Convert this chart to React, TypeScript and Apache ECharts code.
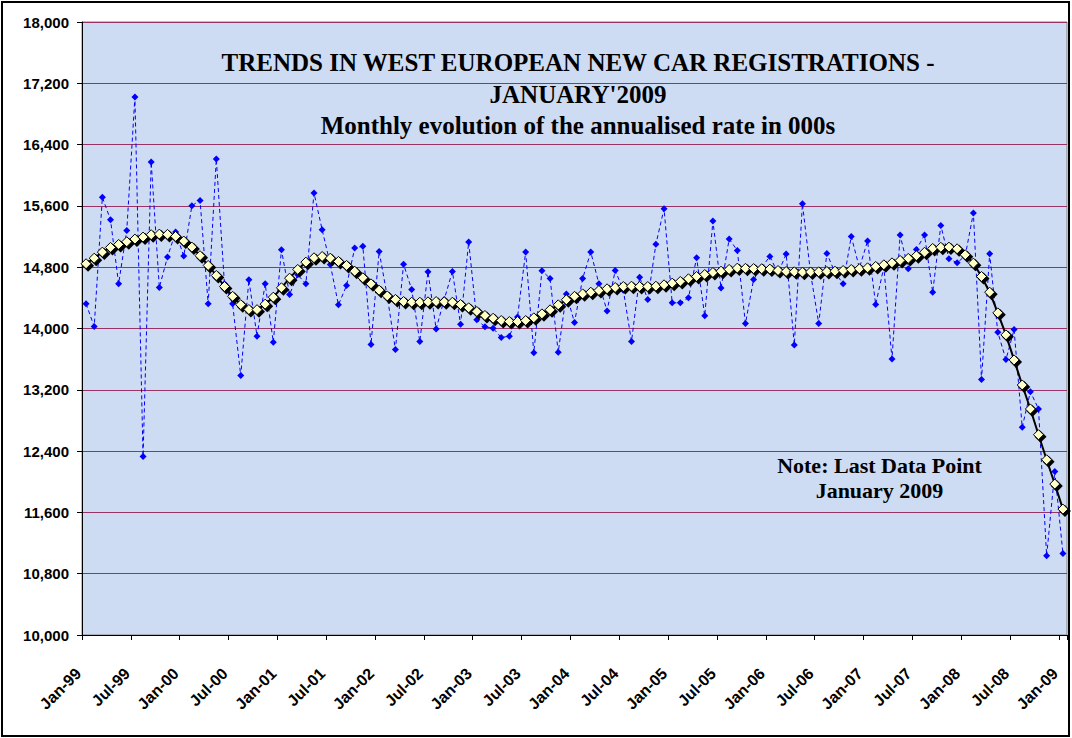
import React, { useEffect, useRef } from 'react';
import * as echarts from 'echarts';

const MONTHS = ['Jan', 'Feb', 'Mar', 'Apr', 'May', 'Jun', 'Jul', 'Aug', 'Sep', 'Oct', 'Nov', 'Dec'];
const YEARS = ['99', '00', '01', '02', '03', '04', '05', '06', '07', '08', '09'];
const categories: string[] = [];
YEARS.forEach((y, yi) => {
  MONTHS.forEach((m, mi) => {
    if (yi < YEARS.length - 1 || mi === 0) categories.push(`${m}-${y}`);
  });
});

const Y_MIN = 10000;
const Y_MAX = 18000;
const Y_STEP = 800;

const TITLE_LINES = [
  'TRENDS IN WEST EUROPEAN NEW CAR REGISTRATIONS -',
  "JANUARY'2009",
  'Monthly evolution of the annualised rate in 000s',
];
const NOTE_LINES = ['Note: Last Data Point', 'January 2009'];

// Monthly annualised rate (blue dashed)
const monthly = [
  14322, 14026, 15712, 15420, 14583, 15280, 17020, 12331, 16173, 14535, 14932, 15258,
  14945, 15603, 15672, 14322, 16212, 14583, 14322, 13385, 14636, 13900, 14583, 13822,
  15027, 14444, 14700, 14583, 15768, 15289, 14836, 14309, 14561, 15049, 15075, 13790,
  15005, 14420, 13725, 14840, 14509, 13830, 14740, 13995, 14380, 14744, 14056, 15128,
  14113, 14022, 14004, 13882, 13900, 14150, 14997, 13682, 14753, 14653, 13690, 14450,
  14078, 14653, 14997, 14583, 14230, 14757, 14500, 13830, 14670, 14378, 15101, 15564,
  14335, 14335, 14400, 14923, 14165, 15402, 14527, 15167, 15019, 14065, 14640, 14800,
  14940, 14720, 14971, 13786, 15629, 14720, 14065, 14980, 14730, 14583, 15202, 14790,
  15141, 14313, 14800, 13603, 15219, 14779, 15032, 15219, 14474, 15345, 14910, 14857,
  14950, 15507, 13333, 14976, 13951, 13594, 13986, 12710, 13176, 12950, 11033, 12134,
  11063,
];

// Smoothed trend (black / yellow diamonds)
const trend = [
  14845, 14918, 14997, 15058, 15097, 15132, 15167, 15193, 15224, 15232, 15228, 15202,
  15141, 15062, 14950, 14823, 14692, 14548, 14420, 14311, 14248, 14246, 14318, 14409,
  14531, 14657, 14771, 14866, 14923, 14940, 14918, 14875, 14823, 14748, 14662, 14583,
  14500, 14425, 14380, 14352, 14343, 14343, 14348, 14352, 14348, 14343, 14313, 14270,
  14222, 14170, 14134, 14104, 14091, 14091, 14104, 14139, 14191, 14244, 14309, 14375,
  14420, 14452, 14474, 14496, 14518, 14535, 14548, 14552, 14548, 14548, 14552, 14570,
  14592, 14614, 14649, 14679, 14705, 14731, 14748, 14771, 14788, 14785, 14782, 14780,
  14775, 14757, 14744, 14740, 14735, 14738, 14740, 14744, 14748, 14757, 14770, 14780,
  14792, 14810, 14831, 14857, 14888, 14915, 14950, 14995, 15045, 15060, 15062, 15040,
  14962, 14853, 14679, 14474, 14204, 13917, 13590, 13263, 12950, 12614, 12287, 11970,
  11643,
];

export default function App() {
  const ref = useRef<HTMLDivElement>(null);
  useEffect(() => {
    if (!ref.current) return;
    const chart = echarts.init(ref.current, null, { renderer: 'svg' });
    const serif = "'Liberation Serif', 'Times New Roman', serif";
    const sans = "'Liberation Sans', Arial, sans-serif";
    chart.setOption({
      animation: false,
      backgroundColor: '#ffffff',
      grid: {
        left: 82,
        top: 22,
        right: 5,
        bottom: 103,
        show: true,
        backgroundColor: '#cddbf3',
        borderColor: '#808080',
        borderWidth: 1,
      },
      xAxis: {
        type: 'category',
        data: categories,
        boundaryGap: true,
        axisLine: { lineStyle: { color: '#000', width: 1 } },
        axisTick: { show: true, interval: 5, length: 5, lineStyle: { color: '#000' } },
        axisLabel: {
          interval: 5,
          rotate: 45,
          margin: 28,
          padding: [0, 11, 0, 0],
          fontFamily: sans,
          fontWeight: 'bold',
          fontSize: 16,
          color: '#000',
        },
        splitLine: { show: false },
      },
      yAxis: {
        type: 'value',
        min: Y_MIN,
        max: Y_MAX,
        interval: Y_STEP,
        axisLine: { show: true, lineStyle: { color: '#000', width: 1 } },
        axisTick: { show: true, length: 5, lineStyle: { color: '#000' } },
        axisLabel: {
          margin: 13,
          fontFamily: sans,
          fontWeight: 'bold',
          fontSize: 15,
          color: '#000',
          formatter: (v: number) => v.toLocaleString('en-US'),
        },
        splitLine: { show: true, lineStyle: { color: '#993366', width: 1 } },
      },
      series: [
        {
          type: 'line',
          data: monthly,
          symbol: 'diamond',
          symbolSize: 7,
          showAllSymbol: true,
          itemStyle: { color: '#0000ff' },
          lineStyle: { color: '#0000ff', width: 1, type: [4, 3] },
          emphasis: { disabled: true },
          z: 2,
        },
        {
          type: 'line',
          data: trend,
          symbol: 'diamond',
          symbolSize: 12,
          symbolOffset: [2, 2],
          showAllSymbol: true,
          itemStyle: { color: '#000000' },
          lineStyle: { color: '#000000', width: 2 },
          emphasis: { disabled: true },
          z: 3,
        },
        {
          type: 'line',
          data: trend,
          symbol: 'diamond',
          symbolSize: 10,
          showAllSymbol: true,
          itemStyle: { color: '#ffffc8', borderColor: '#000000', borderWidth: 1 },
          lineStyle: { width: 0, opacity: 0 },
          emphasis: { disabled: true },
          z: 4,
        },
      ],
      graphic: [
        {
          type: 'rect',
          silent: true,
          z: 100,
          shape: { x: 2, y: 2, width: 1067, height: 734 },
          style: { fill: 'none', stroke: '#000', lineWidth: 2 },
        },
        ...TITLE_LINES.map((t, i) => ({
          type: 'text',
          silent: true,
          z: 50,
          x: 578,
          y: [62.5, 94.7, 125.8][i],
          style: {
            text: t,
            fill: '#000',
            font: `bold 25px ${serif}`,
            align: 'center',
            verticalAlign: 'middle',
          },
        })),
        ...NOTE_LINES.map((t, i) => ({
          type: 'text',
          silent: true,
          z: 50,
          x: 879.5,
          y: [465.3, 490.3][i],
          style: {
            text: t,
            fill: '#000',
            font: `bold 22px ${serif}`,
            align: 'center',
            verticalAlign: 'middle',
          },
        })),
      ],
    });
    return () => chart.dispose();
  }, []);
  return (
    <div
      ref={ref}
      style={{ position: 'absolute', left: 0, top: 0, width: 1072, height: 738 }}
    />
  );
}
